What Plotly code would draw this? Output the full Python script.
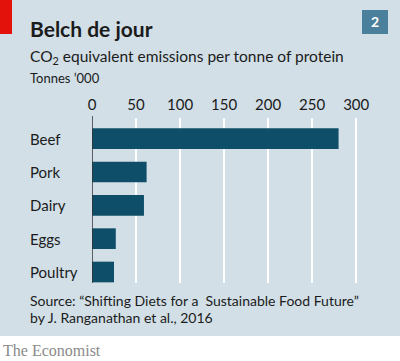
import plotly.graph_objects as go

categories = ["Beef", "Pork", "Dairy", "Eggs", "Poultry"]
values = [280, 62, 59, 27, 25]
tick_vals = [0, 50, 100, 150, 200, 250, 300]

W, H = 400, 361
L, R, T, B = 92, 35, 118, 78
pw = W - L - R
ph = H - T - B

def px(x):
    return (x - L) / pw

def py(y):
    return 1 - (y - T) / ph

BG = "#d2dfe7"
BAR = "#0f4e69"
TXT = "#1b1b1b"
FONT = "Lato"

fig = go.Figure()
fig.add_trace(go.Bar(
    y=list(range(len(categories))), x=values, orientation="h",
    marker=dict(color=BAR, line=dict(width=0)), width=0.62,
    hoverinfo="skip",
))

shapes = [
    dict(type="rect", xref="paper", yref="paper", x0=px(0), x1=px(W), y0=py(336), y1=py(0),
         fillcolor=BG, line=dict(width=0), layer="below"),
    dict(type="rect", xref="paper", yref="paper", x0=px(0), x1=px(12), y0=py(34), y1=py(0),
         fillcolor="#e3120b", line=dict(width=0)),
    dict(type="rect", xref="paper", yref="paper", x0=px(362), x1=px(388), y0=py(34), y1=py(10),
         fillcolor="#4a809b", line=dict(width=0)),
    dict(type="line", xref="x", yref="paper", x0=0, x1=0, y0=0, y1=py(116),
         line=dict(color="#333333", width=1.5)),
]

annotations = [
    dict(text="<b>Belch de jour</b>", x=px(28), y=py(28), xref="paper", yref="paper",
         xanchor="left", yanchor="middle", showarrow=False, font=dict(family=FONT, size=21, color=TXT)),
    dict(text="<b>2</b>", x=px(375), y=py(21.5), xref="paper", yref="paper",
         xanchor="center", yanchor="middle", showarrow=False, font=dict(family=FONT, size=14, color="white")),
    dict(text="CO<sub>2</sub> equivalent emissions per tonne of protein", x=px(28), y=py(57),
         xref="paper", yref="paper", xanchor="left", yanchor="middle", showarrow=False,
         font=dict(family=FONT, size=15.5, color=TXT)),
    dict(text="Tonnes \u2019000", x=px(28), y=py(78), xref="paper", yref="paper",
         xanchor="left", yanchor="middle", showarrow=False, font=dict(family=FONT, size=13, color=TXT)),
    dict(text="Source: \u201cShifting Diets for a  Sustainable Food Future\u201d",
         x=px(28), y=py(300.5), xref="paper", yref="paper", xanchor="left", yanchor="middle",
         showarrow=False, font=dict(family=FONT, size=14, color=TXT)),
    dict(text="by J. Ranganathan et al., 2016",
         x=px(28), y=py(317), xref="paper", yref="paper", xanchor="left", yanchor="middle",
         showarrow=False, font=dict(family=FONT, size=14, color=TXT)),
    dict(text="The Economist", x=px(1), y=py(350.5), xref="paper", yref="paper",
         xanchor="left", yanchor="middle", showarrow=False,
         font=dict(family="Liberation Serif", size=16, color="#8a8a8a")),
]
for i, c in enumerate(categories):
    annotations.append(dict(text=c, x=px(28), y=i, xref="paper", yref="y",
                            xanchor="left", yanchor="middle", showarrow=False,
                            font=dict(family=FONT, size=15, color=TXT)))

fig.update_layout(
    width=W, height=H,
    margin=dict(l=L, r=R, t=T, b=B, pad=0),
    paper_bgcolor="white", plot_bgcolor="rgba(0,0,0,0)",
    showlegend=False,
    shapes=shapes, annotations=annotations,
    bargap=0.38,
    xaxis=dict(range=[0, 310], side="top", tickvals=tick_vals, ticktext=[str(v) for v in tick_vals],
               showgrid=True, gridcolor="white", gridwidth=2, zeroline=False, showline=False,
               ticks="", ticklabelstandoff=4,
               tickfont=dict(family=FONT, size=15, color=TXT), fixedrange=True),
    yaxis=dict(range=[4.33, -0.62], showticklabels=False, showgrid=False, zeroline=False,
               showline=False, ticks="", fixedrange=True),
)

fig.write_html("out.html", config={"displayModeBar": False},
               post_script="document.body.style.margin='0';document.body.style.padding='0';")
